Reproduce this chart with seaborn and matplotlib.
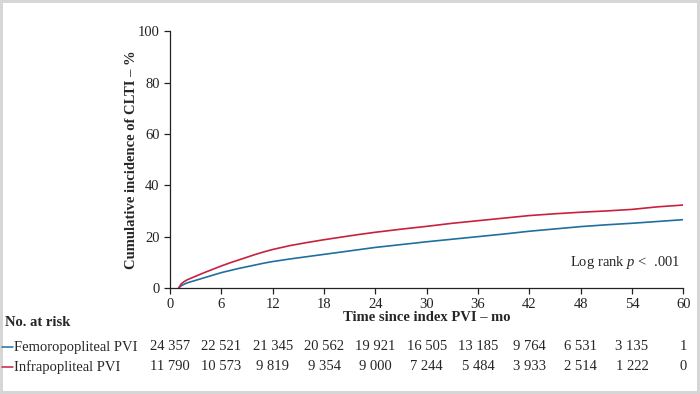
import pandas as pd
import matplotlib.pyplot as plt
import matplotlib.transforms as mtransforms
import seaborn as sns

# data
months = [1, 1.3, 1.6, 2, 2.5, 3, 4, 5, 6, 7, 8, 9, 10, 11, 12, 14, 16, 18, 20, 22, 24, 27, 30, 33, 36, 39, 42, 45, 48, 51, 54, 57, 60]
femoro_pct = [0.0, 0.9, 1.4, 2.0, 2.5, 3.0, 4.0, 5.0, 6.0, 6.8, 7.6, 8.3, 9.0, 9.7, 10.3, 11.3, 12.2, 13.1, 14.0, 14.9, 15.8, 16.9, 18.0, 19.0, 20.0, 21.0, 22.1, 23.0, 23.9, 24.6, 25.2, 25.9, 26.6]
infra_pct = [0.0, 1.6, 2.4, 3.2, 3.9, 4.6, 6.0, 7.3, 8.6, 9.8, 10.9, 12.0, 13.1, 14.1, 15.0, 16.5, 17.7, 18.8, 19.8, 20.8, 21.7, 22.9, 24.0, 25.2, 26.2, 27.2, 28.2, 28.9, 29.5, 30.0, 30.6, 31.6, 32.3]

risk_months = [0, 6, 12, 18, 24, 30, 36, 42, 48, 54, 60]
femoro_risk = ["24 357", "22 521", "21 345", "20 562", "19 921", "16 505", "13 185", "9 764", "6 531", "3 135", "1"]
infra_risk = ["11 790", "10 573", "9 819", "9 354", "9 000", "7 244", "5 484", "3 933", "2 514", "1 222", "0"]

blue = "#1f6f9f"
red = "#c8213f"

sns.set_style("ticks")
plt.rcParams["font.family"] = ["Liberation Serif", "DejaVu Serif"]
plt.rcParams["mathtext.fontset"] = "custom"
plt.rcParams["mathtext.it"] = "Liberation Serif:italic"
plt.rcParams["mathtext.rm"] = "Liberation Serif"

df = pd.concat([
    pd.DataFrame({"month": months, "pct": femoro_pct, "group": "Femoropopliteal PVI"}),
    pd.DataFrame({"month": months, "pct": infra_pct, "group": "Infrapopliteal PVI"}),
])

fig = plt.figure(figsize=(7, 3.94), dpi=100)
fig.patch.set_edgecolor("#d6d6d6")
fig.patch.set_linewidth(4)
ax = fig.add_axes([0.243, 0.269, 0.733, 0.652])

sns.lineplot(data=df, x="month", y="pct", hue="group", palette=[blue, red],
             linewidth=1.2, legend=False, ax=ax)

ax.set_xlim(0, 60)
ax.set_ylim(0, 100)
ax.set_xticks(risk_months)
ax.set_yticks(range(0, 101, 20))
ax.tick_params(labelsize=10.5, colors="#222222", length=4, width=0.9)
for s in ["left", "bottom"]:
    ax.spines[s].set_linewidth(0.9)
    ax.spines[s].set_color("#222222")
sns.despine(ax=ax)
ax.set_xlabel("Time since index PVI \u2013 mo", fontsize=10.5, fontweight="bold", labelpad=0)
ax.set_ylabel("Cumulative incidence of CLTI \u2013 %", fontsize=10.5, fontweight="bold", labelpad=0)

ax.text(59.7, 6.5, "Log rank $\\it{p}$ <  .001", ha="right", va="bottom", fontsize=10.5)

# risk table
trans = mtransforms.blended_transform_factory(ax.transData, fig.transFigure)
fig.text(5 / 700, 1 - 323 / 394, "No. at risk", fontsize=10.5, fontweight="bold", va="center")
rows = [(347, femoro_risk, "Femoropopliteal PVI", blue), (367, infra_risk, "Infrapopliteal PVI", red)]
for ypix, counts, name, col in rows:
    yf = 1 - ypix / 394
    fig.add_artist(plt.Line2D([2 / 700, 13 / 700], [yf, yf], color=col, linewidth=1.1))
    fig.text(14 / 700, yf, name, fontsize=10.5, va="center")
    for m, c in zip(risk_months, counts):
        ax.text(m, yf, c, transform=trans, fontsize=10.5, ha="center", va="center", clip_on=False)

fig.savefig("out.png", dpi=100)
